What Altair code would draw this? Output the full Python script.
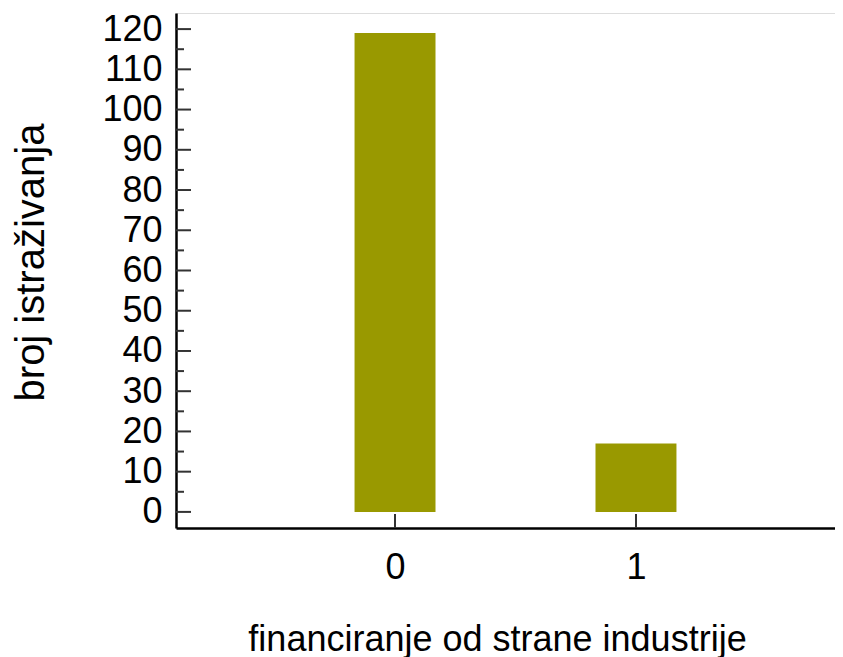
import altair as alt
import pandas as pd

categories = [0, 1]
counts = [119, 17]
y_major = list(range(0, 121, 10))
y_minor = list(range(5, 120, 10))
x_ticks = [0, 1]

bars = pd.DataFrame({"cat": categories, "count": counts})
ymaj = pd.DataFrame({"v": y_major})
ymin = pd.DataFrame({"v": y_minor})
xt = pd.DataFrame({"c": x_ticks})

xscale = alt.Scale(domain=[-0.909, 1.826], nice=False, zero=False)
yscale = alt.Scale(domain=[-4, 124], nice=False, zero=False)

FONT = "Liberation Sans"

bar = alt.Chart(bars).transform_calculate(
    x0="datum.cat - 0.168", x1="datum.cat + 0.168"
).mark_bar(color="#999900").encode(
    x=alt.X("x0:Q", scale=xscale, axis=alt.Axis(
        values=x_ticks, format="d", ticks=False, grid=False,
        domainColor="black", domainWidth=2.5,
        labelFontSize=36, labelPadding=22, labelColor="black", labelFlush=False,
        title="financiranje od strane industrije", titleFontSize=36,
        titleFontWeight="normal", titleColor="black",
        titleX=321, titleY=122, titleBaseline="alphabetic", titleLimit=1000)),
    x2="x1:Q",
    y=alt.Y("count:Q", scale=yscale, axis=alt.Axis(
        values=y_major, ticks=False, grid=False,
        domainColor="black", domainWidth=2.5,
        labelFontSize=36, labelPadding=14, labelColor="black",
        labelBaseline="middle", labelFlush=False, labelOverlap=False,
        title="broj istraživanja", titleFontSize=40,
        titleFontWeight="normal", titleColor="black",
        titleX=-133, titleY=249, titleBaseline="alphabetic", titleLimit=1000)),
    y2=alt.datum(0),
)

major = alt.Chart(ymaj).mark_rule(color="#333333", strokeWidth=2).encode(
    y=alt.Y("v:Q", scale=yscale), x=alt.value(0), x2=alt.value(15)
)
minor = alt.Chart(ymin).mark_rule(color="#333333", strokeWidth=2).encode(
    y=alt.Y("v:Q", scale=yscale), x=alt.value(0), x2=alt.value(8)
)
xtick = alt.Chart(xt).mark_rule(color="#333333", strokeWidth=2).encode(
    x=alt.X("c:Q", scale=xscale), y=alt.value(515), y2=alt.value(501)
)

chart = alt.layer(bar, major, minor, xtick).properties(
    width=659, height=515,
    autosize=alt.AutoSizeParams(type="none"),
    padding={"left": 168, "top": 5, "right": 0, "bottom": 129},
).configure_view(stroke=None).configure(font=FONT)

chart.save("out.html", embed_options={"renderer": "svg", "actions": False})
